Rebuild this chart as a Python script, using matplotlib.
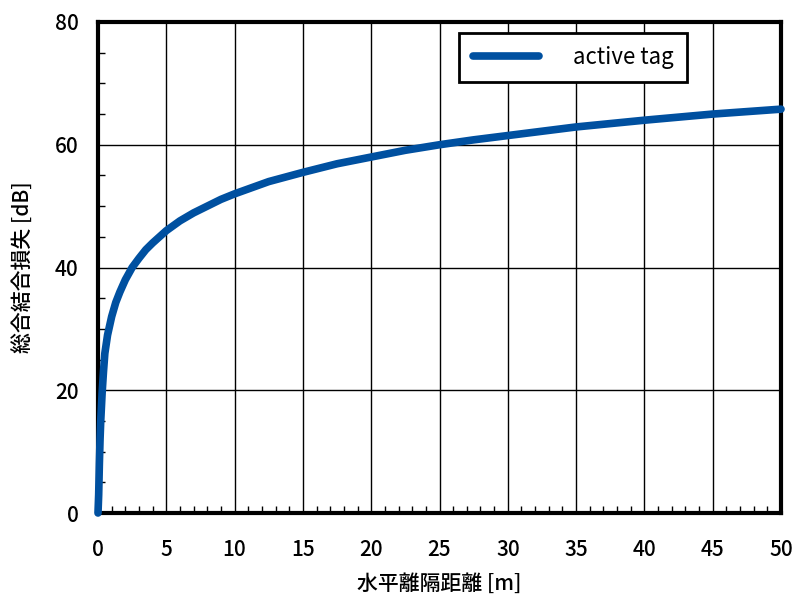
import matplotlib.pyplot as plt
from matplotlib.ticker import MultipleLocator

plt.rcParams['font.family'] = ['Noto Sans CJK JP', 'DejaVu Sans']

# horizontal distance [m] and total coupling loss [dB]
distance = [0, 0.05, 0.1, 0.15, 0.2, 0.3, 0.4, 0.5, 0.7, 1.0, 1.3, 1.6, 2, 2.5, 3,
            3.5, 4, 5, 6, 7, 8, 9, 10, 11, 12.5, 14, 15, 17.5, 20, 22.5, 25,
            27.5, 30, 35, 40, 45, 50]
loss = [0, 3, 8, 12, 15, 19.5, 23, 26, 29, 32, 34.3, 36, 38, 40, 41.5,
        42.9, 44, 46, 47.6, 48.9, 50, 51.1, 52, 52.8, 54, 54.9, 55.5, 56.9,
        58, 59.1, 60, 60.8, 61.5, 62.9, 64, 65, 65.8]
series_label = "active tag"

fig = plt.figure(figsize=(7.93, 5.96), dpi=100)
ax = fig.add_axes([98 / 793, 1 - 513 / 596, (781 - 98) / 793, (513 - 22) / 596])

ax.plot(distance, loss, color="#0050a0", lw=5.5, solid_capstyle="round",
        solid_joinstyle="round", label=series_label, zorder=3, clip_on=False)

ax.set_xlim(0, 50)
ax.set_ylim(0, 80)
ax.xaxis.set_major_locator(MultipleLocator(5))
ax.xaxis.set_minor_locator(MultipleLocator(1))
ax.yaxis.set_major_locator(MultipleLocator(20))
ax.yaxis.set_minor_locator(MultipleLocator(5))
ax.tick_params(which="both", direction="in", labelsize=15)
ax.tick_params(axis="x", pad=19)
ax.tick_params(axis="y", pad=14)
ax.tick_params(which="major", length=0)
ax.tick_params(which="minor", length=5, width=1)
for lab in ax.get_xticklabels() + ax.get_yticklabels():
    lab.set_fontweight("medium")
ax.grid(True, which="major", color="black", lw=1)
ax.set_axisbelow(True)
for s in ax.spines.values():
    s.set_linewidth(3)

ax.set_xlabel("水平離隔距離 [m]", fontsize=15, fontweight="medium", labelpad=8)
ax.set_ylabel("総合結合損失 [dB]", fontsize=15, fontweight="medium", labelpad=14)

leg = ax.legend(loc="upper right", bbox_to_anchor=(0.862, 0.978), fontsize=16,
                fancybox=False, framealpha=1, edgecolor="black",
                handlelength=3.0, handletextpad=1.5, borderpad=0.6,
                borderaxespad=0)
leg.get_frame().set_linewidth(2)

fig.savefig("out.png", dpi=100)
